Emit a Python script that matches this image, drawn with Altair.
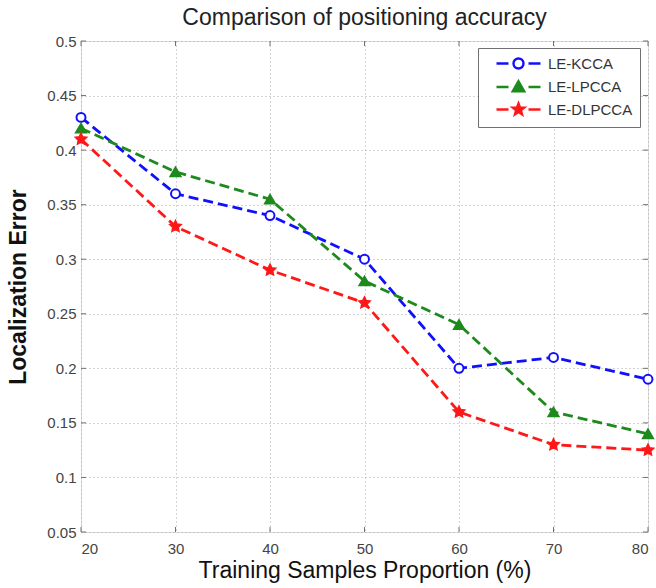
import math
import altair as alt
import pandas as pd

# ---- data ----
x_vals = [20, 30, 40, 50, 60, 70, 80]
series_names = ["LE-KCCA", "LE-LPCCA", "LE-DLPCCA"]
kcca = [0.43, 0.36, 0.34, 0.30, 0.20, 0.21, 0.19]
lpcca = [0.42, 0.38, 0.355, 0.28, 0.24, 0.16, 0.14]
dlpcca = [0.41, 0.33, 0.29, 0.26, 0.16, 0.13, 0.125]
x_ticks = [20, 30, 40, 50, 60, 70, 80]
y_ticks = [0.05, 0.1, 0.15, 0.2, 0.25, 0.3, 0.35, 0.4, 0.45, 0.5]

colors = ["#1010ff", "#1c8a1c", "#ff1818"]
fills = ["white", "#1c8a1c", "#ff1818"]
shapes = ["circle", "triangle-up",
          "M0,-1L0.29,-0.4L0.95,-0.31L0.47,0.15L0.59,0.81L0,0.5L-0.59,0.81L-0.47,0.15L-0.95,-0.31L-0.29,-0.4Z"]
sizes = [80, 100, 115]

W, H = 567, 491
FONT = "Liberation Sans"
NARROW = "Liberation Sans Narrow, Arial Narrow, Liberation Sans"

xs = alt.Scale(domain=[20, 80], nice=False, zero=False)
ys = alt.Scale(domain=[0.05, 0.5], nice=False, zero=False)

x_axis = alt.Axis(values=x_ticks, format="d", grid=True, gridDash=[1, 3], gridColor="#a8a8a8",
                  gridWidth=1, domain=False, ticks=False, labelPadding=9,
                  labelFont=NARROW, labelFontSize=15, labelColor="#444444",
                  title="Training Samples Proportion (%)", titleFont=FONT, titleFontSize=23,
                  titleFontWeight="normal", titleColor="#111111", titlePadding=3)
y_axis = alt.Axis(values=y_ticks, format=".2~f", grid=True, gridDash=[1, 3], gridColor="#a8a8a8",
                  gridWidth=1, domain=False, ticks=False, labelPadding=5,
                  labelFont=NARROW, labelFontSize=15, labelColor="#444444",
                  title="Localization Error", titleFont=FONT, titleFontSize=23,
                  titleFontWeight="bold", titleColor="#111111", titlePadding=16)

layers = []
all_vals = [kcca, lpcca, dlpcca]
for i, name in enumerate(series_names):
    df = pd.DataFrame({"x": x_vals, "y": all_vals[i]})
    base = alt.Chart(df)
    line = base.mark_line(strokeDash=[10, 5], strokeWidth=2.8, color=colors[i]).encode(
        x=alt.X("x:Q", scale=xs, axis=x_axis),
        y=alt.Y("y:Q", scale=ys, axis=y_axis),
    )
    pts = base.mark_point(shape=shapes[i], size=sizes[i], stroke=colors[i], fill=fills[i],
                          fillOpacity=1, strokeWidth=2, opacity=1).encode(
        x=alt.X("x:Q", scale=xs),
        y=alt.Y("y:Q", scale=ys),
    )
    layers += [line, pts]

# inward ticks on all four sides
tx = pd.DataFrame({"t": x_ticks})
ty = pd.DataFrame({"t": y_ticks})
tick_col = "#707070"
layers.append(alt.Chart(tx).mark_rule(color=tick_col, strokeWidth=1).encode(
    x=alt.X("t:Q", scale=xs), y=alt.value(H), y2=alt.value(H - 5)))
layers.append(alt.Chart(tx).mark_rule(color=tick_col, strokeWidth=1).encode(
    x=alt.X("t:Q", scale=xs), y=alt.value(0), y2=alt.value(5)))
layers.append(alt.Chart(ty).mark_rule(color=tick_col, strokeWidth=1).encode(
    y=alt.Y("t:Q", scale=ys), x=alt.value(0), x2=alt.value(5)))
layers.append(alt.Chart(ty).mark_rule(color=tick_col, strokeWidth=1).encode(
    y=alt.Y("t:Q", scale=ys), x=alt.value(W), x2=alt.value(W - 5)))

# legend symbols: dash - marker - dash (unit = 7px)
u = 7.0
LEG_PAD = 7
s0 = -1 + (17 - LEG_PAD) / u
def px(v):
    return s0 + v / u

cx = px(22)
r = 5 / u
dash = f"M{px(0):.3f},0H{px(12):.3f}M{px(32):.3f},0H{px(44):.3f}"

def star_path(c, r_out, r_in):
    pts = []
    for k in range(10):
        rr = r_out if k % 2 == 0 else r_in
        a = -math.pi / 2 + k * math.pi / 5
        pts.append(f"{c + rr * math.cos(a):.3f},{rr * math.sin(a):.3f}")
    return "M" + "L".join(pts) + "Z"

leg_shapes = [
    dash + f"M{cx + r:.3f},0A{r:.3f},{r:.3f} 0 1,1 {cx - r:.3f},0A{r:.3f},{r:.3f} 0 1,1 {cx + r:.3f},0Z",
    dash + f"M{cx:.3f},-0.82L{cx + 0.82:.3f},0.6L{cx - 0.82:.3f},0.6Z",
    dash + star_path(cx, 0.85, 0.36),
]
leg_df = pd.DataFrame({"series": series_names, "x": [50, 50, 50], "y": [None, None, None]})
legend = alt.Legend(title=None, orient="none", legendX=397, legendY=7,
                    symbolSize=int(u * 2) ** 2, symbolStrokeWidth=2.4, labelFont=NARROW,
                    labelFontSize=15, labelColor="#333333", labelOffset=67 - LEG_PAD - 14,
                    rowPadding=1.5, padding=LEG_PAD, strokeColor="#707070", fillColor="white",
                    cornerRadius=0, symbolOpacity=1)
leg_layer = alt.Chart(leg_df).mark_point(size=1, strokeWidth=2.4, opacity=1).encode(
    x=alt.X("x:Q", scale=xs),
    y=alt.Y("y:Q", scale=ys),
    stroke=alt.Stroke("series:N", scale=alt.Scale(domain=series_names, range=colors), legend=legend),
    fill=alt.Fill("series:N", scale=alt.Scale(domain=series_names, range=fills), legend=legend),
    shape=alt.Shape("series:N", scale=alt.Scale(domain=series_names, range=leg_shapes), legend=legend),
)
layers.append(leg_layer)

chart = alt.layer(*layers).properties(
    width=W, height=H,
    title=alt.TitleParams("Comparison of positioning accuracy", font=FONT, fontSize=23,
                          fontWeight="normal", color="#222222", offset=4, anchor="middle"),
    autosize=alt.AutoSizeParams(type="none"),
    padding={"left": 81, "top": 41, "right": 8, "bottom": 56},
).configure_view(stroke="#808080", strokeWidth=2).configure(background="white")

chart.save("out.html", embed_options={"renderer": "svg", "actions": False})
